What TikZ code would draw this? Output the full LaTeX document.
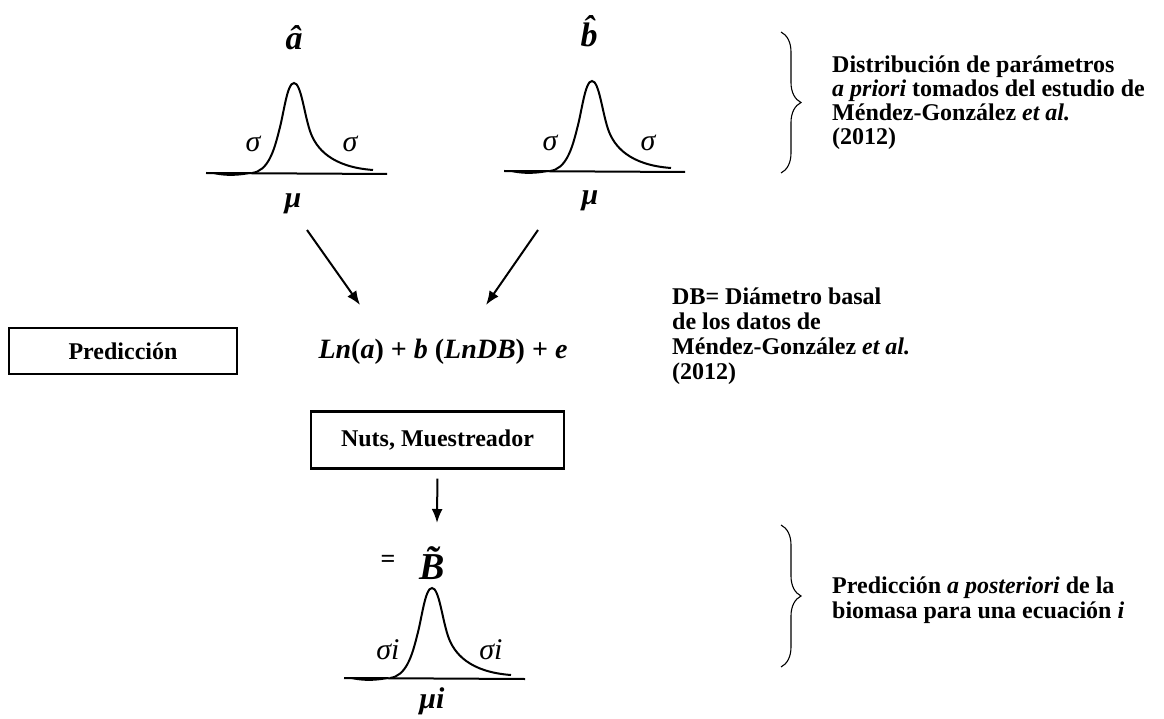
\documentclass[tikz,border=0pt]{standalone}
\usepackage{fontspec}
\setmainfont{Liberation Serif}
\usetikzlibrary{arrows.meta,positioning,decorations.pathreplacing}
\tikzset{
  txt/.style  ={inner sep=0pt, align=left, font=\fontsize{24}{25}\selectfont\bfseries},
  box/.style  ={draw, line width=2.2pt, inner sep=0pt, font=\fontsize{24}{25}\selectfont\bfseries},
  sym/.style  ={inner sep=0pt, font=\fontsize{30}{30}\selectfont\bfseries\itshape},
  sig/.style  ={inner sep=0pt, font=\fontsize{30}{30}\selectfont\itshape},
  hat/.style  ={inner sep=0pt, font=\fontsize{34}{34}\selectfont\bfseries\itshape},
  arrow/.style={-{Latex[length=14pt,width=11pt]}, line width=2pt},
  curve/.style={line width=2pt},
  brace/.style={decorate, decoration={brace, amplitude=20pt}, line width=1.1pt},
}
\newcommand{\bellcurve}[1]{%
  \begin{scope}[shift={#1}]
    \draw[curve] (-42,90) .. controls (-26,88) and (-20,68) .. (-15,48)
      .. controls (-10,30) and (-7,0) .. (0,0)
      .. controls (7,0) and (10,30) .. (16,48)
      .. controls (22,66) and (38,84) .. (79,87);
    \draw[curve] (-88,90) -- (93,91);
    \fill (-88,89) .. controls (-70,94.5) and (-55,93.5) .. (-40,90) -- cycle;
  \end{scope}}

\begin{document}
\begin{tikzpicture}[x=1pt, y=-1pt]
  \useasboundingbox (0,0) rectangle (1164,719);
  % prior distributions
  \bellcurve{(294,83)}
  \bellcurve{(592,81)}
  \node[hat] (ahat) at (294,38) {\^{a}};
  \node[hat] (bhat) at (589,31) {\^{b}};
  \node[sig] (sa1) at (253,144) {σ};
  \node[sig] (sa2) at (350,144) {σ};
  \node[sig] (sb1) at (550,143) {σ};
  \node[sig] (sb2) at (648,143) {σ};
  \node[sym] (mua) at (293,204) {μ};
  \node[sym] (mub) at (590,201) {μ};
  \draw[brace] (781,32) -- (781,173);
  \node[txt, anchor=west, font=\fontsize{24}{24}\selectfont\bfseries] (priorTxt) at (832,103)
    {Distribución de parámetros\\\textit{a priori} tomados del estudio de\\Méndez-González \textit{et al.}\\(2012)};
  % model
  \node[box, minimum width=228pt, minimum height=46pt] (pred) at (123,351) {Predicción};
  \node[sym, font=\fontsize{28}{28}\selectfont\bfseries\itshape] (model) at (443,352)
    {Ln\textup{(}a\textup{)} \textup{+} b \textup{(}LnDB\textup{)} \textup{+} e};
  \node[txt, anchor=west] (dbTxt) at (672,336)
    {DB= Diámetro basal\\de los datos de\\Méndez-González \textit{et al.}\\(2012)};
  \coordinate (tailA) at (307,230); \coordinate (headA) at (360,305);
  \coordinate (tailB) at (538,230); \coordinate (headB) at (486,305);
  \draw[arrow] (tailA) -- (headA);
  \draw[arrow] (tailB) -- (headB);
  % sampler and posterior
  \node[box, minimum width=253pt, minimum height=57pt] (nuts) at (437.5,440) {Nuts, Muestreador};
  \coordinate (nutsEnd) at (437,523);
  \draw[arrow, shorten <=9pt] (nuts.south) -- (nutsEnd);
  \bellcurve{(432,588)}
  \node[inner sep=0pt, font=\fontsize{26}{26}\selectfont\bfseries] (eqs) at (388,561) {=};
  \node[hat, font=\fontsize{38}{38}\selectfont\bfseries\itshape] (btil) at (432,563) {\~{B}};
  \node[sig] (si1) at (388,650) {σ\textit{i}};
  \node[sig] (si2) at (491,650) {σ\textit{i}};
  \node[sym] (mui) at (432,701) {μi};
  \draw[brace] (781,525) -- (781,667);
  \node[txt, anchor=west] (postTxt) at (832,600)
    {Predicción \textit{a posteriori} de la\\biomasa para una ecuación \textit{i}};
\end{tikzpicture}
\end{document}
